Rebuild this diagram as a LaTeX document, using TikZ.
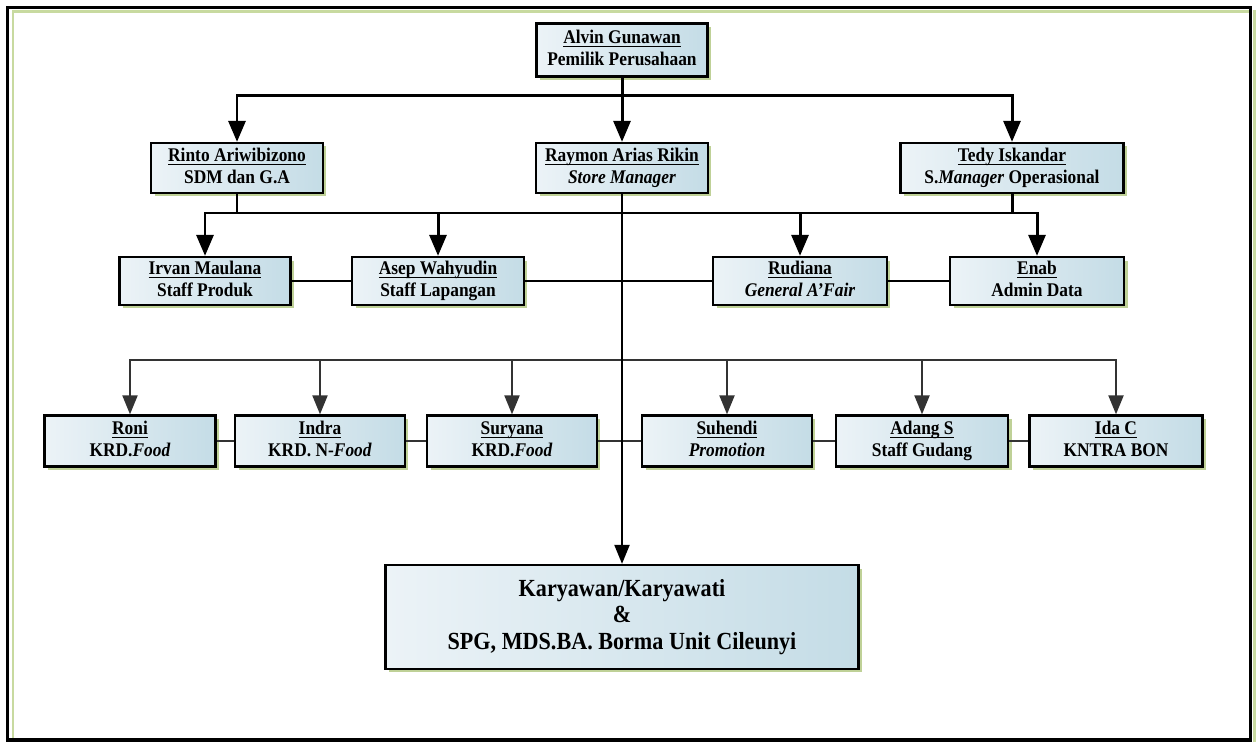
\documentclass[tikz,border=0pt]{standalone}
\usepackage{amsmath}
\usepackage{fontspec}
\setmainfont{Liberation Serif}[FakeStretch=0.9]
\usepackage{tikz}
\usetikzlibrary{arrows.meta,shadows}
\tikzstyle{chart} = [x = 0.02cm, y = -0.02cm]
\definecolor{boxLeft}{RGB}{236,243,247}
\definecolor{boxRight}{RGB}{196,220,230}
\definecolor{shadowGreen}{RGB}{184,204,140}
\definecolor{frameGreen}{RGB}{200,218,160}
\definecolor{lowLine}{RGB}{51,51,51}
\tikzstyle{boxStyle} = [draw=black, line width=1.3pt, left color=boxLeft, right color=boxRight, drop shadow={shadow xshift=0.07cm, shadow yshift=-0.07cm, fill=shadowGreen, opacity=0.9}, align=center, inner sep=0pt, font=\bfseries\fontsize{11}{12.5}\selectfont]
\tikzstyle{mainLine} = [color=black, line width=1.7pt]
\tikzstyle{mainArrow} = [mainLine, -{Triangle[length=0.42cm, width=0.34cm]}]
\tikzstyle{lowLineStyle} = [color=lowLine, line width=1.2pt]
\tikzstyle{lowArrow} = [lowLineStyle, -{Triangle[length=0.38cm, width=0.3cm]}]
\newcommand{\staffBox}[6]{\node [boxStyle, minimum width=#4cm, minimum height=#5cm] (#1) at #2 {\strut\underline{\smash[b]{#3}}\\#6\strut};}
\begin{document}
\begin{tikzpicture}[chart]
        \useasboundingbox (0,0) rectangle (1256,742);
        % frame
        \draw [frameGreen, line width=0.06cm] (13,740) -- (13,12) -- (1250,12);
        \draw [frameGreen, line width=0.06cm] (1254,10) -- (1254,742);
        \draw [black, line width=0.07cm] (7.5,7.5) rectangle (1250.5,740);

        % level 0 and 1
        \staffBox{alvin}{(622,50)}{Alvin Gunawan}{3.42}{1.06}{Pemilik Perusahaan}
        \staffBox{rinto}{(237,168)}{Rinto Ariwibizono}{3.44}{1.0}{SDM dan G.A}
        \staffBox{raymon}{(622,168)}{Raymon Arias Rikin}{3.44}{1.0}{\textit{Store Manager}}
        \staffBox{tedy}{(1012,168)}{Tedy Iskandar}{4.46}{1.0}{S.\textit{Manager} Operasional}

        % level 2
        \staffBox{irvan}{(205,281)}{Irvan Maulana}{3.42}{0.96}{Staff Produk}
        \staffBox{asep}{(438,281)}{Asep Wahyudin}{3.44}{0.96}{Staff Lapangan}
        \staffBox{rudiana}{(800,281)}{Rudiana}{3.48}{0.96}{\textit{General A'Fair}}
        \staffBox{enab}{(1037,281)}{Enab}{3.48}{0.96}{Admin Data}

        % level 3
        \staffBox{roni}{(130,441)}{Roni}{3.42}{1.02}{KRD.\textit{Food}}
        \staffBox{indra}{(320,441)}{Indra}{3.40}{1.02}{KRD. N-\textit{Food}}
        \staffBox{suryana}{(512,441)}{Suryana}{3.40}{1.02}{KRD.\textit{Food}}
        \staffBox{suhendi}{(727,441)}{Suhendi}{3.40}{1.02}{\textit{Promotion}}
        \staffBox{adang}{(922,441)}{Adang S}{3.44}{1.02}{Staff Gudang}
        \staffBox{ida}{(1116,441)}{Ida C}{3.46}{1.02}{KNTRA BON}

        \node [boxStyle, minimum width=9.46cm, minimum height=2.08cm, font=\bfseries\fontsize{14}{15.3}\selectfont] (karyawan) at (622,617) {Karyawan/Karyawati\\\&\\SPG, MDS.BA. Borma Unit Cileunyi};

        % connectors
        \coordinate (busTop) at (622,96);
        \coordinate (busMidL) at (237,213);
        \coordinate (busMidR) at (1012,213);
        \coordinate (busLow) at (622,360);

        \draw [mainArrow] (alvin) -- (raymon);
        \draw [mainArrow] (busTop) -| (rinto);
        \draw [mainArrow] (busTop) -| (tedy);

        \draw [mainLine] (rinto) -- (busMidL);
        \draw [mainLine] (tedy) -- (busMidR);
        \draw [mainLine] (busMidL) -- (busMidR);
        \draw [mainArrow] (busMidL) -| (irvan);
        \draw [mainArrow] (busMidL) -| (asep);
        \draw [mainArrow] (busMidR) -| (rudiana);
        \draw [mainArrow] (busMidR) -| (enab);
        \draw [mainLine] (irvan) -- (asep);
        \draw [mainLine] (asep) -- (rudiana);
        \draw [mainLine] (rudiana) -- (enab);

        \foreach \staff in {roni,indra,suryana,suhendi,adang,ida}
          \draw [lowArrow] (busLow) -| (\staff);
        \draw [lowLineStyle] (roni) -- (indra);
        \draw [lowLineStyle] (indra) -- (suryana);
        \draw [lowLineStyle] (suryana) -- (suhendi);
        \draw [lowLineStyle] (suhendi) -- (adang);
        \draw [lowLineStyle] (adang) -- (ida);

        \draw [lowArrow, color=black] (raymon) -- (karyawan);
      \end{tikzpicture}
\end{document}
